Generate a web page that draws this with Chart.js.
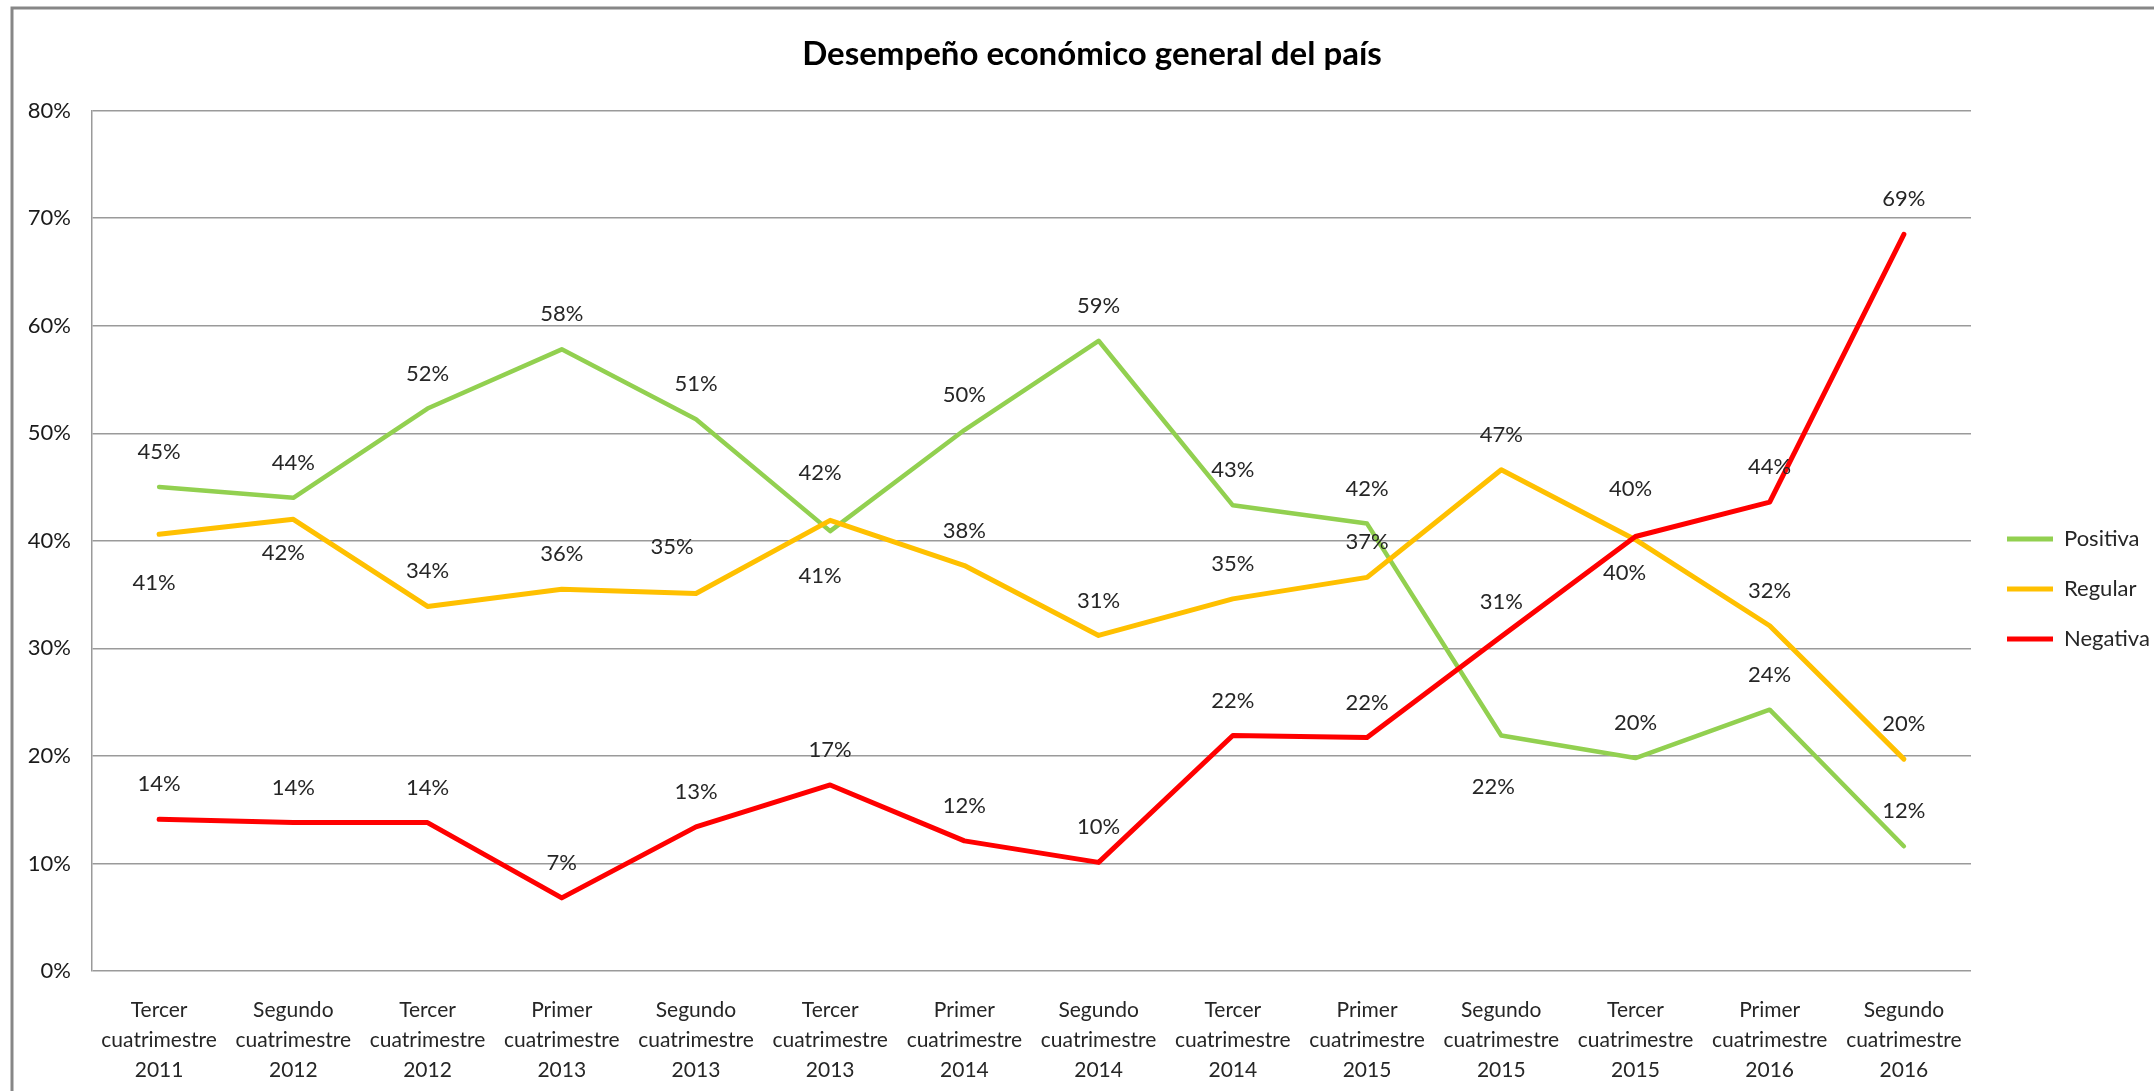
<!DOCTYPE html>
<html lang="es">
<head>
<meta charset="utf-8">
<title>Desempeño económico general del país</title>
<script src="https://cdn.jsdelivr.net/npm/chart.js@4.4.0/dist/chart.umd.min.js"></script>
<style>
  html, body { margin: 0; padding: 0; background: #fff; overflow: hidden; }
</style>
</head>
<body>
<canvas id="grafico" width="2154" height="1091"></canvas>
<script>
// Periodos de la encuesta (una línea por renglón de la etiqueta)
const categorias = [
  ['Tercer', 'cuatrimestre', '2011'],
  ['Segundo', 'cuatrimestre', '2012'],
  ['Tercer', 'cuatrimestre', '2012'],
  ['Primer', 'cuatrimestre', '2013'],
  ['Segundo', 'cuatrimestre', '2013'],
  ['Tercer', 'cuatrimestre', '2013'],
  ['Primer', 'cuatrimestre', '2014'],
  ['Segundo', 'cuatrimestre', '2014'],
  ['Tercer', 'cuatrimestre', '2014'],
  ['Primer', 'cuatrimestre', '2015'],
  ['Segundo', 'cuatrimestre', '2015'],
  ['Tercer', 'cuatrimestre', '2015'],
  ['Primer', 'cuatrimestre', '2016'],
  ['Segundo', 'cuatrimestre', '2016']
];

// Porcentaje de respuestas por opinión
const positiva = [45.0, 44.0, 52.3, 57.8, 51.3, 40.9, 50.3, 58.6, 43.3, 41.6, 21.9, 19.8, 24.3, 11.6];
const regular  = [40.6, 42.0, 33.9, 35.5, 35.1, 41.9, 37.7, 31.2, 34.6, 36.6, 46.6, 40.1, 32.1, 19.7];
const negativa = [14.1, 13.8, 13.8, 6.8, 13.4, 17.3, 12.1, 10.1, 21.9, 21.7, 31.1, 40.4, 43.6, 68.5];
const series = ['Positiva', 'Regular', 'Negativa'];

// Marcas del eje vertical
const ticksY = [0, 10, 20, 30, 40, 50, 60, 70, 80];

const ANCHO = 2154;
const FUENTE = "Lato, 'Liberation Sans', sans-serif";
const LEYENDA_PX = 22;

// Corrimiento [dx, dy] de algunas etiquetas para que no se encimen
const desplazamientos = {
  Positiva: { 5: [-10, 45], 10: [-8, 51] },
  Regular: { 0: [-5, 49], 1: [-10, 34], 4: [-24, -47], 5: [-10, -47], 11: [-11, 33] },
  Negativa: { 11: [-5, -48] }
};

// Ancho de la leyenda, para dejar el área de trazado y el título en su sitio
const medidor = document.createElement('canvas').getContext('2d');
medidor.font = LEYENDA_PX + 'px ' + FUENTE;
const textoLeyenda = Math.max(...series.map(s => medidor.measureText(s).width));
const anchoLeyenda = 28 + 46 + LEYENDA_PX / 2 + textoLeyenda + 10;
const padDer = ANCHO - (1979 + anchoLeyenda);
const padIzq = 30 + padDer;

// Fondo blanco y marco gris del gráfico
const marco = {
  id: 'marco',
  beforeDraw(chart) {
    const ctx = chart.ctx;
    ctx.save();
    ctx.fillStyle = '#ffffff';
    ctx.fillRect(0, 0, chart.width, chart.height);
    ctx.strokeStyle = '#878787';
    ctx.lineWidth = 3;
    ctx.beginPath();
    ctx.moveTo(12, chart.height);
    ctx.lineTo(12, 8);
    ctx.lineTo(chart.width, 8);
    ctx.stroke();
    ctx.restore();
  }
};

// Etiquetas de porcentaje sobre cada punto
const etiquetas = {
  id: 'etiquetas',
  afterDatasetsDraw(chart) {
    const ctx = chart.ctx;
    ctx.save();
    ctx.font = '22px ' + FUENTE;
    ctx.fillStyle = '#262626';
    ctx.textAlign = 'center';
    ctx.textBaseline = 'middle';
    chart.data.datasets.forEach((ds, i) => {
      const meta = chart.getDatasetMeta(i);
      const ajustes = desplazamientos[ds.label] || {};
      meta.data.forEach((pt, j) => {
        const [dx, dy] = ajustes[j] || [0, -35];
        ctx.fillText(Math.round(ds.data[j]) + '%', pt.x + dx, pt.y + dy);
      });
    });
    ctx.restore();
  }
};

new Chart(document.getElementById('grafico'), {
  type: 'line',
  data: {
    labels: categorias,
    datasets: [
      { label: series[0], data: positiva, borderColor: '#92D050', backgroundColor: '#92D050', borderWidth: 4.5, order: 3, yAxisID: 'y' },
      { label: series[1], data: regular, borderColor: '#FFC000', backgroundColor: '#FFC000', borderWidth: 5, order: 2, yAxisID: 'y' },
      { label: series[2], data: negativa, borderColor: '#FF0000', backgroundColor: '#FF0000', borderWidth: 5, order: 1, yAxisID: 'y' }
    ]
  },
  options: {
    responsive: false,
    animation: false,
    layout: { padding: { left: padIzq, right: padDer, top: 0, bottom: 0 } },
    elements: {
      point: { radius: 0, hoverRadius: 0 },
      line: { tension: 0, borderJoinStyle: 'round', borderCapStyle: 'round', fill: false }
    },
    plugins: {
      title: {
        display: true,
        text: 'Desempeño económico general del país',
        color: '#000000',
        font: { family: FUENTE, size: 33, weight: 'bold', lineHeight: 1.2 },
        padding: { top: 35, bottom: 36 }
      },
      legend: {
        position: 'right',
        align: 'center',
        // título vacío que baja los elementos de la leyenda
        title: { display: true, text: ' ', font: { size: 12, lineHeight: 1.2 }, padding: { top: 0, bottom: 72.6 } },
        labels: {
          boxWidth: 46,
          boxHeight: 5,
          padding: 28,
          color: '#262626',
          font: { family: FUENTE, size: LEYENDA_PX },
          generateLabels(chart) {
            return Chart.defaults.plugins.legend.labels.generateLabels(chart)
              .map(it => Object.assign(it, { lineWidth: 0 }));
          },
          sort: (a, b) => a.datasetIndex - b.datasetIndex
        }
      },
      tooltip: { enabled: false }
    },
    scales: {
      x: {
        offset: true,
        grid: { display: false },
        border: { display: false },
        ticks: {
          color: '#262626',
          padding: 16,
          maxRotation: 0,
          autoSkip: false,
          font: { family: FUENTE, size: 21, lineHeight: 30 / 21 }
        },
        afterFit(s) { s.height = 120; }
      },
      y: {
        min: 0,
        max: 80,
        grid: { color: '#9a9a9a', lineWidth: 1.5, drawTicks: false },
        border: { display: true, color: '#9a9a9a', width: 1.5 },
        ticks: {
          padding: 21,
          color: '#1a1a1a',
          font: { family: FUENTE, size: 22 },
          callback: v => v + '%'
        },
        afterBuildTicks(axis) { axis.ticks = ticksY.map(v => ({ value: v })); },
        afterFit(s) { s.width = 92 - padIzq; }
      },
      hueco: {
        type: 'linear',
        position: 'right',
        display: true,
        grid: { display: false },
        border: { display: false },
        ticks: { display: false },
        afterFit(s) { s.width = 8; }
      }
    }
  },
  plugins: [marco, etiquetas]
});
</script>
</body>
</html>
